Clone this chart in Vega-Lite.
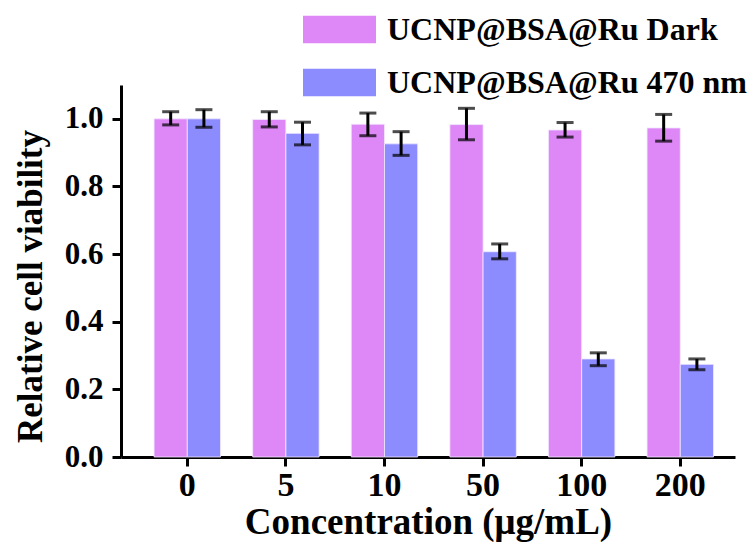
{
  "$schema": "https://vega.github.io/schema/vega-lite/v6.json",
  "width": 614,
  "height": 372,
  "autosize": {"type": "none"},
  "padding": {"left": 121, "top": 85, "right": 16, "bottom": 85},
  "background": "white",
  "data": {
    "values": [
      {"conc": "0", "series": "UCNP@BSA@Ru Dark", "mean": 1.0, "lo": 0.982, "hi": 1.021},
      {"conc": "5", "series": "UCNP@BSA@Ru Dark", "mean": 0.998, "lo": 0.976, "hi": 1.021},
      {"conc": "10", "series": "UCNP@BSA@Ru Dark", "mean": 0.984, "lo": 0.95, "hi": 1.017},
      {"conc": "50", "series": "UCNP@BSA@Ru Dark", "mean": 0.983, "lo": 0.938, "hi": 1.031},
      {"conc": "100", "series": "UCNP@BSA@Ru Dark", "mean": 0.967, "lo": 0.946, "hi": 0.989},
      {"conc": "200", "series": "UCNP@BSA@Ru Dark", "mean": 0.973, "lo": 0.934, "hi": 1.013},
      {"conc": "0", "series": "UCNP@BSA@Ru 470 nm", "mean": 1.0, "lo": 0.975, "hi": 1.027},
      {"conc": "5", "series": "UCNP@BSA@Ru 470 nm", "mean": 0.957, "lo": 0.923, "hi": 0.99},
      {"conc": "10", "series": "UCNP@BSA@Ru 470 nm", "mean": 0.926, "lo": 0.892, "hi": 0.962},
      {"conc": "50", "series": "UCNP@BSA@Ru 470 nm", "mean": 0.607, "lo": 0.586, "hi": 0.63},
      {"conc": "100", "series": "UCNP@BSA@Ru 470 nm", "mean": 0.29, "lo": 0.27, "hi": 0.308},
      {"conc": "200", "series": "UCNP@BSA@Ru 470 nm", "mean": 0.274, "lo": 0.258, "hi": 0.29}
    ]
  },
  "encoding": {
    "x": {
      "field": "conc",
      "type": "ordinal",
      "sort": ["0", "5", "10", "50", "100", "200"],
      "scale": {"paddingInner": 0.326, "paddingOuter": 0.2767, "align": 0.606},
      "axis": {
        "title": "Concentration (μg/mL)",
        "labelAngle": 0,
        "labelPadding": 2,
        "labelFontSize": 34,
        "titleFontSize": 37,
        "titleBaseline": "alphabetic",
        "titleY": 76
      }
    },
    "xOffset": {
      "field": "series",
      "type": "nominal",
      "sort": ["UCNP@BSA@Ru Dark", "UCNP@BSA@Ru 470 nm"],
      "scale": {"paddingInner": 0, "paddingOuter": 0}
    }
  },
  "layer": [
    {
      "mark": {"type": "bar", "stroke": "#f3e8ff", "strokeWidth": 0.8},
      "encoding": {
        "y": {
          "field": "mean",
          "type": "quantitative",
          "scale": {"domain": [0, 1.1], "nice": false},
          "axis": {
            "title": "Relative cell viability",
            "values": [0, 0.2, 0.4, 0.6, 0.8, 1.0],
            "format": ".1f",
            "labelPadding": 9,
            "labelFontSize": 31,
            "titleFontSize": 35,
            "titlePadding": 16,
            "titleY": 201
          }
        },
        "color": {
          "field": "series",
          "type": "nominal",
          "scale": {
            "domain": ["UCNP@BSA@Ru Dark", "UCNP@BSA@Ru 470 nm"],
            "range": ["#de88f7", "#8c8cff"]
          },
          "legend": {
            "title": null,
            "orient": "none",
            "legendX": 182,
            "legendY": -92,
            "symbolType": "M-1,-0.38H1V0.38H-1Z",
            "symbolSize": 5329,
            "symbolStrokeWidth": 0,
            "labelFontSize": 32,
            "labelFontWeight": "bold",
            "labelFont": "Liberation Serif",
            "labelColor": "black",
            "labelOffset": 11,
            "rowPadding": -12,
            "labelLimit": 500
          }
        }
      }
    },
    {
      "mark": {"type": "rule", "color": "black", "strokeWidth": 3},
      "encoding": {
        "y": {"field": "lo", "type": "quantitative"},
        "y2": {"field": "hi"}
      }
    },
    {
      "mark": {"type": "tick", "color": "black", "thickness": 3, "size": 17, "orient": "horizontal"},
      "encoding": {
        "y": {"field": "lo", "type": "quantitative"}
      }
    },
    {
      "mark": {"type": "tick", "color": "black", "thickness": 3, "size": 17, "orient": "horizontal"},
      "encoding": {
        "y": {"field": "hi", "type": "quantitative"}
      }
    }
  ],
  "config": {
    "font": "Liberation Serif",
    "view": {"stroke": null},
    "axis": {
      "grid": false,
      "domainColor": "black",
      "domainWidth": 3,
      "tickColor": "black",
      "tickWidth": 3,
      "tickSize": 9,
      "labelFont": "Liberation Serif",
      "labelFontWeight": "bold",
      "labelColor": "black",
      "titleFont": "Liberation Serif",
      "titleFontWeight": "bold",
      "titleColor": "black"
    }
  }
}
